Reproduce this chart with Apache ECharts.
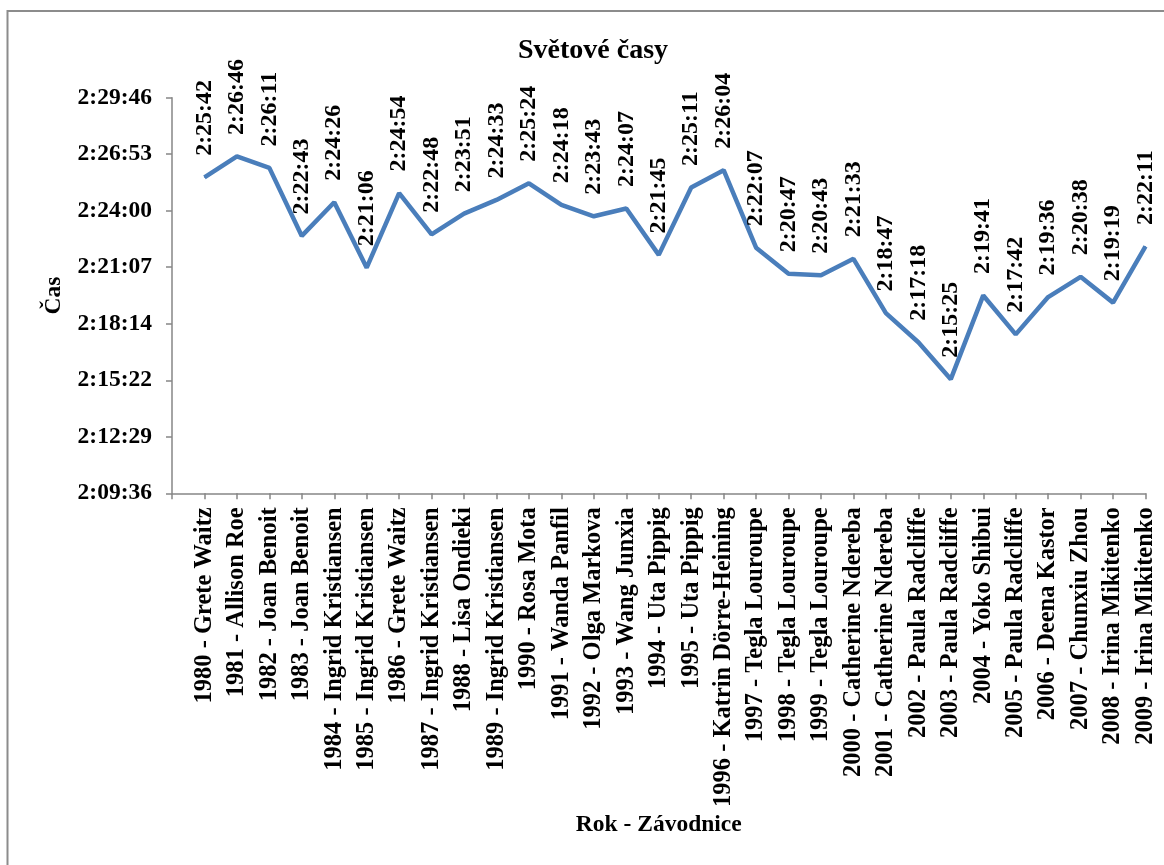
<!DOCTYPE html>
<html>
<head>
<meta charset="utf-8">
<script src="https://cdn.jsdelivr.net/npm/echarts@6/dist/echarts.min.js"></script>
<style>
  html, body { margin: 0; padding: 0; background: #fff; }
  #chart { width: 1164px; height: 865px; }
</style>
</head>
<body>
<div id="chart"></div>
<script>
// Winning times per year (h:mm:ss)
const categories = [
  '1980 - Grete Waitz', '1981 - Allison Roe', '1982 - Joan Benoit', '1983 - Joan Benoit',
  '1984 - Ingrid Kristiansen', '1985 - Ingrid Kristiansen', '1986 - Grete Waitz',
  '1987 - Ingrid Kristiansen', '1988 - Lisa Ondieki', '1989 - Ingrid Kristiansen',
  '1990 - Rosa Mota', '1991 - Wanda Panfil', '1992 - Olga Markova', '1993 - Wang Junxia',
  '1994 - Uta Pippig', '1995 - Uta Pippig', '1996 - Katrin Dörre-Heining',
  '1997 - Tegla Louroupe', '1998 - Tegla Louroupe', '1999 - Tegla Louroupe',
  '2000 - Catherine Ndereba', '2001 - Catherine Ndereba', '2002 - Paula Radcliffe',
  '2003 - Paula Radcliffe', '2004 - Yoko Shibui', '2005 - Paula Radcliffe',
  '2006 - Deena Kastor', '2007 - Chunxiu Zhou', '2008 - Irina Mikitenko',
  '2009 - Irina Mikitenko'
];
const times = [
  '2:25:42', '2:26:46', '2:26:11', '2:22:43', '2:24:26', '2:21:06', '2:24:54',
  '2:22:48', '2:23:51', '2:24:33', '2:25:24', '2:24:18', '2:23:43', '2:24:07',
  '2:21:45', '2:25:11', '2:26:04', '2:22:07', '2:20:47', '2:20:43', '2:21:33',
  '2:18:47', '2:17:18', '2:15:25', '2:19:41', '2:17:42', '2:19:36', '2:20:38',
  '2:19:19', '2:22:11'
];
// Value axis in seconds: 0.090 day .. 0.104 day, step 0.002 day
const axisMin = 7776;
const axisMax = 8985.6;
const axisStep = 172.8;

function toSeconds(t) {
  const p = t.split(':').map(Number);
  return p[0] * 3600 + p[1] * 60 + p[2];
}
function fmt(sec) {
  const s = Math.round(sec);
  const h = Math.floor(s / 3600);
  const m = Math.floor((s % 3600) / 60);
  const ss = s % 60;
  return h + ':' + String(m).padStart(2, '0') + ':' + String(ss).padStart(2, '0');
}

// A blank leading slot keeps the first point one step in from the axis
const axisCats = [''].concat(categories);
const seriesData = ['-'].concat(times.map(toSeconds));

const FONT = '"Liberation Serif", "Times New Roman", serif';
const chart = echarts.init(document.getElementById('chart'), null, { renderer: 'canvas' });

chart.setOption({
  animation: false,
  backgroundColor: '#ffffff',
  title: {
    text: 'Světové časy',
    left: 513,
    top: 32,
    textStyle: { fontFamily: FONT, fontWeight: 'bold', fontSize: 28, color: '#000' }
  },
  graphic: [{
    type: 'rect',
    shape: { x: 7.5, y: 11, width: 1400, height: 1000 },
    style: { fill: 'none', stroke: '#8c8c8c', lineWidth: 2 },
    silent: true
  }],
  grid: { left: 172, top: 97.7, right: 18.5, bottom: 371.7, containLabel: false },
  xAxis: {
    type: 'category',
    data: axisCats,
    boundaryGap: false,
    name: 'Rok - Závodnice',
    nameLocation: 'middle',
    nameGap: 320,
    nameTextStyle: { fontFamily: FONT, fontWeight: 'bold', fontSize: 23.5, color: '#000' },
    axisLine: { lineStyle: { color: '#868686', width: 1.5 } },
    axisTick: { show: true, length: 6, lineStyle: { color: '#868686', width: 1.5 } },
    axisLabel: {
      rotate: 90,
      interval: 0,
      margin: 14,
      fontFamily: FONT, fontWeight: 'bold', fontSize: 24.5, color: '#000'
    },
    splitLine: { show: false }
  },
  yAxis: {
    type: 'value',
    min: axisMin,
    max: axisMax,
    interval: axisStep,
    name: 'Čas',
    nameLocation: 'middle',
    nameRotate: 90,
    nameGap: 106,
    nameTextStyle: { fontFamily: FONT, fontWeight: 'bold', fontSize: 23.5, color: '#000' },
    axisLine: { show: true, lineStyle: { color: '#868686', width: 1.5 } },
    axisTick: { show: true, length: 6, lineStyle: { color: '#868686', width: 1.5 } },
    axisLabel: {
      margin: 20,
      formatter: v => fmt(v),
      fontFamily: FONT, fontWeight: 'bold', fontSize: 23.5, color: '#000'
    },
    splitLine: { show: false }
  },
  series: [{
    type: 'line',
    data: seriesData,
    showSymbol: true,
    symbol: 'circle',
    symbolSize: 1,
    lineStyle: { color: '#4a7ebb', width: 4.5 },
    itemStyle: { color: '#4a7ebb' },
    label: {
      show: true,
      position: 'top',
      distance: 21,
      rotate: 90,
      align: 'left',
      verticalAlign: 'middle',
      formatter: p => fmt(p.value),
      fontFamily: FONT, fontWeight: 'bold', fontSize: 24, color: '#000'
    }
  }]
});
</script>
</body>
</html>
